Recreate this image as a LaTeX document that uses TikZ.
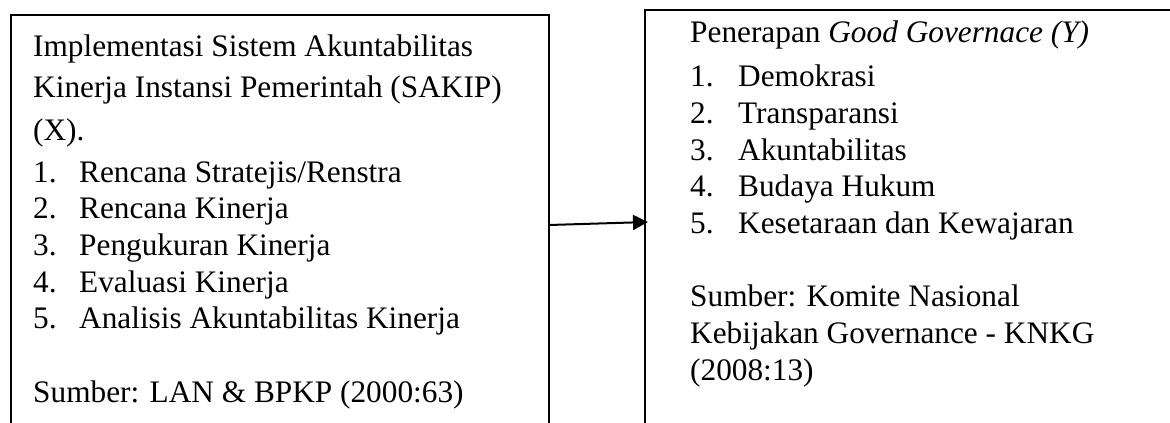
\documentclass[tikz,border=0pt]{standalone}
\usepackage{fontspec}
\setmainfont{Liberation Serif}
\usetikzlibrary{arrows.meta}
\begin{document}
\begin{tikzpicture}[x=1pt,y=-1pt,
  txt/.style={anchor=base west,inner sep=0pt,font=\fontsize{31.3}{36.6}\selectfont},
  boxline/.style={line width=2pt,line join=miter},
  conn/.style={line width=2pt,-{Triangle[length=15pt,width=15pt]}}]
\useasboundingbox (0,0) rectangle (1170,423);
% left box (open at the bottom)
\draw[boxline] (11,430) -- (11,15) -- (549,15) -- (549,430);
% right box (open at the bottom and right)
\draw[boxline] (645,430) -- (645,9.5) -- (1180,9.5);
% left texts
\node[txt] (l1) at (33,56) {Implementasi Sistem Akuntabilitas};
\node[txt] (l2) at (33,97) {Kinerja Instansi Pemerintah (SAKIP)};
\node[txt] (l3) at (33,140) {(X).};
\node[txt] (n1) at (33,182) {1.};
\node[txt] (i1) at (79,182) {Rencana Stratejis/Renstra};
\node[txt] (n2) at (33,218) {2.};
\node[txt] (i2) at (79,218) {Rencana Kinerja};
\node[txt] (n3) at (33,255) {3.};
\node[txt] (i3) at (79,255) {Pengukuran Kinerja};
\node[txt] (n4) at (33,292) {4.};
\node[txt] (i4) at (79,292) {Evaluasi Kinerja};
\node[txt] (n5) at (33,328) {5.};
\node[txt] (i5) at (79,328) {Analisis Akuntabilitas Kinerja};
\node[txt] (ls) at (33,402) {Sumber: LAN \& BPKP (2000:63)};
% right texts
\node[txt] (r0) at (690,42) {Penerapan \textit{Good Governace (Y)}};
\node[txt] (m1) at (690,86) {1.};
\node[txt] (j1) at (738,86) {Demokrasi};
\node[txt] (m2) at (690,123) {2.};
\node[txt] (j2) at (738,123) {Transparansi};
\node[txt] (m3) at (690,160) {3.};
\node[txt] (j3) at (738,160) {Akuntabilitas};
\node[txt] (m4) at (690,196) {4.};
\node[txt] (j4) at (738,196) {Budaya Hukum};
\node[txt] (m5) at (690,233) {5.};
\node[txt] (j5) at (738,233) {Kesetaraan dan Kewajaran};
\node[txt] (rs1) at (690,306) {Sumber: Komite Nasional};
\node[txt] (rs2) at (690,343) {Kebijakan Governance - KNKG};
\node[txt] (rs3) at (690,380) {(2008:13)};
% connector
\coordinate (a) at (549,225);
\coordinate (b) at (648,222);
\draw[conn] (a) -- (b);
\end{tikzpicture}
\end{document}
